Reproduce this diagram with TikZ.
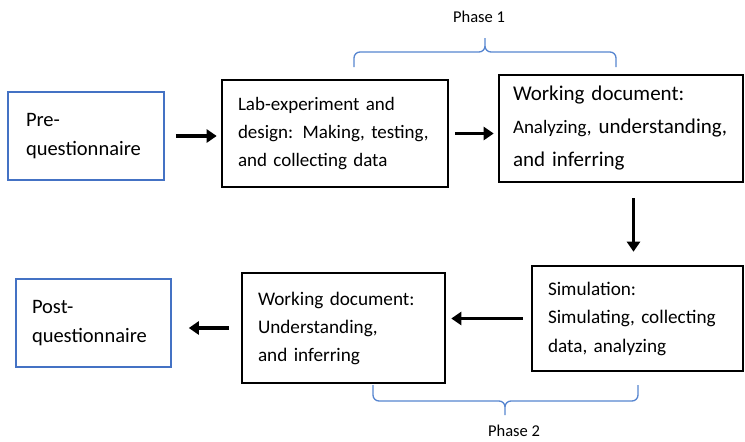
\documentclass[tikz,border=0pt]{standalone}
\usepackage{fontspec}
\setmainfont{Carlito}
\usetikzlibrary{arrows.meta}
\definecolor{boxblue}{RGB}{68,114,196}
\definecolor{braceblue}{RGB}{86,133,208}

\begin{document}
\begin{tikzpicture}[x=1pt, y=-1pt,
    qbox/.style={draw=boxblue, line width=1.6pt, align=left, inner ysep=0pt, minimum height=88pt, font=\fontsize{20.5}{29}\selectfont},
    stepbox/.style={draw=black, line width=2.6pt, align=left, inner xsep=16pt, inner ysep=0pt},
    flow/.style={-{Triangle[length=10pt,width=13pt]}, line width=3.5pt},
    phasebrace/.style={draw=braceblue, line width=1.3pt, rounded corners=6pt},
    phaselabel/.style={font=\fontsize{16.5}{20}\selectfont}]
    		\useasboundingbox (0,0) rectangle (745,442);
    		% top row
    		\node [qbox, inner xsep=18pt, text width=120pt] (pre) at (86,136) {Pre-\\questionnaire};
    		\node [stepbox, text width=194pt, minimum height=107pt, font=\fontsize{19}{28}\selectfont] (lab) at (335,133.5) {Lab-experiment and\\design: Making, testing,\\and collecting data};
    		\node [stepbox, inner xsep=14pt, text width=216pt, minimum height=107pt, font=\fontsize{21}{33}\selectfont] (wdone) at (621,128.5) {Working document:\\\mbox{\fontsize{19}{33}\selectfont Analyzing, \fontsize{21}{33}\selectfont understanding,}\\and inferring};
    		% bottom row
    		\node [stepbox, text width=179pt, minimum height=105pt, font=\fontsize{19.2}{28.5}\selectfont] (sim) at (637.5,318.5) {Simulation:\\Simulating, collecting\\data, analyzing};
    		\node [stepbox, text width=171pt, minimum height=110pt, font=\fontsize{19.2}{28}\selectfont] (wdtwo) at (343.5,328) {Working document:\\Understanding,\\and inferring};
    		\node [qbox, inner xsep=16pt, text width=123pt] (post) at (93.5,323) {Post-\\questionnaire};
    		% arrows
    		\draw [flow, shorten <=11pt, shorten >=4pt] (pre.east) -- (pre.east -| lab.west);
    		\draw [flow, shorten <=6pt, shorten >=4pt] (lab.east) -- (lab.east -| wdone.west);
    		\draw [flow, shorten <=15pt, shorten >=13pt] ([xshift=-4pt]sim.north |- wdone.south) -- ([xshift=-4pt]sim.north);
    		\draw [flow, shorten <=8pt, shorten >=5pt] (sim.west) -- (sim.west -| wdtwo.east);
    		\draw [flow, shorten <=12pt, shorten >=17pt] (wdtwo.west) -- (wdtwo.west -| post.east);
    		% phases
    		\draw [phasebrace] (354,67) |- (485,52) -- (485,38) (485,38) -- (485,52) -| (616,67);
    		\node [phaselabel] (phaseone) at (479,17) {Phase 1};
    		\draw [phasebrace] (373,385) |- (505,401) -- (505,415) (505,415) -- (505,401) -| (638,385);
    		\node [phaselabel] (phasetwo) at (514,431) {Phase 2};
    	\end{tikzpicture}
\end{document}
